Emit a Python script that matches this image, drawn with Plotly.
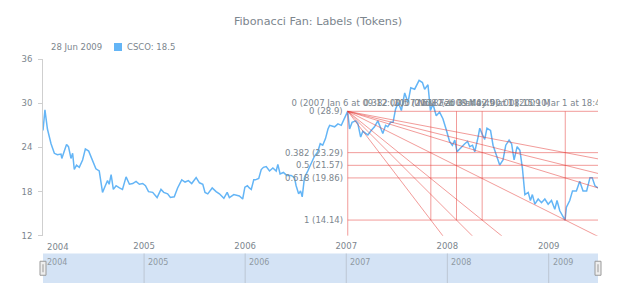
import pandas as pd
import plotly.graph_objects as go

# ---------------- data ----------------
title_text = "Fibonacci Fan: Labels (Tokens)"
series_name = "CSCO"

dates = [
    # 2004
    "2004-01-02", "2004-01-09", "2004-01-18", "2004-01-31", "2004-02-12", "2004-02-23", "2004-03-07", "2004-03-10",
    "2004-03-19", "2004-03-27", "2004-04-03", "2004-04-12", "2004-04-18", "2004-04-24", "2004-05-02", "2004-05-12",
    "2004-05-24", "2004-06-03", "2004-06-15", "2004-06-27", "2004-07-11", "2004-07-23", "2004-08-04", "2004-08-14",
    "2004-08-22", "2004-08-28", "2004-09-04", "2004-09-12", "2004-09-22", "2004-10-04", "2004-10-15", "2004-10-28",
    "2004-11-09", "2004-11-21", "2004-12-03", "2004-12-15", "2004-12-27",
    # 2005
    "2005-01-06", "2005-01-17", "2005-02-01", "2005-02-17", "2005-03-03", "2005-03-13", "2005-03-27", "2005-04-06",
    "2005-04-20", "2005-05-02", "2005-05-17", "2005-05-29", "2005-06-10", "2005-06-22", "2005-07-08", "2005-07-20",
    "2005-08-01", "2005-08-09", "2005-08-19", "2005-09-04", "2005-09-18", "2005-09-30", "2005-10-16", "2005-10-28",
    "2005-11-05", "2005-11-21", "2005-12-11", "2005-12-23", "2005-12-31",
    # 2006
    "2006-01-09", "2006-01-16", "2006-01-23", "2006-02-01", "2006-02-07", "2006-02-19", "2006-02-28", "2006-03-08",
    "2006-03-18", "2006-03-30", "2006-04-11", "2006-04-23", "2006-04-29", "2006-05-07", "2006-05-19", "2006-05-31",
    "2006-06-16", "2006-06-28", "2006-07-04", "2006-07-13", "2006-07-20", "2006-07-26", "2006-08-03", "2006-08-15",
    "2006-08-28", "2006-09-08", "2006-09-20", "2006-09-29", "2006-10-08", "2006-10-18", "2006-10-27", "2006-11-02",
    "2006-11-20", "2006-12-02", "2006-12-14", "2006-12-26",
    # 2007
    "2007-01-06", "2007-01-13", "2007-01-22", "2007-02-04", "2007-02-12", "2007-02-22", "2007-03-02", "2007-03-12",
    "2007-03-20", "2007-04-01", "2007-04-13", "2007-04-25", "2007-05-05", "2007-05-13", "2007-05-23", "2007-05-31",
    "2007-06-10", "2007-06-19", "2007-06-28", "2007-07-08", "2007-07-19", "2007-07-31", "2007-08-12", "2007-08-22",
    "2007-09-05", "2007-09-21", "2007-10-03", "2007-10-11", "2007-10-23", "2007-11-01", "2007-11-10", "2007-11-22",
    "2007-12-04", "2007-12-16", "2007-12-29",
    # 2008
    "2008-01-09", "2008-01-19", "2008-01-28", "2008-02-05", "2008-02-21", "2008-03-04", "2008-03-14", "2008-03-22",
    "2008-04-01", "2008-04-09", "2008-04-21", "2008-04-27", "2008-05-07", "2008-05-15", "2008-05-23", "2008-06-05",
    "2008-06-14", "2008-06-26", "2008-07-08", "2008-07-20", "2008-07-30", "2008-08-11", "2008-08-20", "2008-08-29",
    "2008-09-09", "2008-09-19", "2008-09-28", "2008-10-07", "2008-10-19", "2008-10-27", "2008-11-03", "2008-11-12",
    "2008-11-24", "2008-12-06", "2008-12-18", "2008-12-30",
    # 2009
    "2009-01-11", "2009-01-23", "2009-01-31", "2009-02-10", "2009-03-01", "2009-03-06", "2009-03-18", "2009-03-28",
    "2009-04-11", "2009-04-23", "2009-05-05", "2009-05-18", "2009-05-30", "2009-06-07", "2009-06-17", "2009-06-28",
]

close = [
    # 2004
    26.3, 29.1, 26.5, 24.5, 23.2, 23.0, 23.1, 22.5, 23.5, 24.4, 24.1, 22.5, 23.2, 21.0, 21.6, 21.3,
    22.3, 23.8, 23.5, 22.5, 21.1, 20.8, 17.9, 18.8, 19.5, 19.0, 20.3, 18.3, 18.8, 18.5, 18.3, 20.0,
    19.0, 19.1, 19.4, 19.0, 19.1,
    # 2005
    18.8, 18.0, 17.9, 17.2, 18.3, 17.9, 17.7, 17.2, 17.3, 18.5, 19.6, 19.3, 19.5, 19.1, 19.9, 19.2,
    19.0, 17.9, 17.7, 18.5, 18.0, 17.7, 17.1, 17.9, 17.2, 17.6, 17.4, 17.0, 18.6,
    # 2006
    18.8, 18.5, 18.3, 19.6, 19.6, 19.8, 21.0, 21.3, 21.4, 20.8, 21.2, 20.8, 21.7, 20.4, 20.6, 20.2,
    20.2, 19.9, 18.8, 17.7, 18.1, 17.3, 19.9, 20.8, 21.9, 22.8, 23.4, 24.5, 24.3, 25.2, 26.5, 27.0,
    26.8, 27.2, 27.0, 28.1,
    # 2007
    28.9, 26.5, 27.4, 27.6, 27.2, 25.4, 26.2, 25.9, 25.7, 26.3, 26.8, 27.6, 26.5, 25.9, 27.0, 26.8,
    27.4, 27.4, 29.2, 30.1, 29.0, 31.4, 30.1, 32.1, 31.9, 33.1, 32.8, 31.9, 32.5, 29.0, 29.9, 28.3,
    28.8, 27.9, 26.3,
    # 2008
    24.8, 24.3, 25.0, 23.4, 24.1, 24.5, 24.8, 24.1, 24.3, 23.4, 25.4, 26.6, 25.7, 25.1, 26.6, 26.3,
    24.3, 22.8, 21.6, 22.3, 24.3, 25.0, 24.5, 22.3, 24.1, 23.6, 21.2, 17.6, 17.9, 16.8, 17.6, 16.3,
    17.0, 16.5, 17.0, 16.3,
    # 2009
    16.8, 15.6, 16.8, 15.4, 14.14, 15.9, 16.8, 18.1, 18.1, 19.4, 18.1, 18.1, 19.9, 19.9, 18.8, 18.5,
]

year_labels = ["2004", "2005", "2006", "2007", "2008", "2009"]
y_ticks = [12, 18, 24, 30, 36]

fan_start_time = "2007-01-06 09:12:00"
fan_end_time = "2009-03-01 18:48:00"
fan_levels = [0, 0.382, 0.5, 0.618, 1]
fan_level_prices = [28.9, 23.29, 21.57, 19.86, 14.14]

# ---------------- styles ----------------
GRAY = "#7c868e"
LINE_BLUE = "#64b5f6"
FAN_RED = "rgba(229,57,53,0.5)"
AXIS_GRAY = "#cfcfcf"
FONT = "DejaVu Sans"
SMALL = 8.5

# ---------------- derived geometry ----------------
t0 = pd.Timestamp(fan_start_time)
t1 = pd.Timestamp(fan_end_time)
t_first = pd.Timestamp(dates[0])
t_last = pd.Timestamp(dates[-1])
p0 = fan_level_prices[0]
p1 = fan_level_prices[-1]
span = t1 - t0
y_min, y_max = y_ticks[0], y_ticks[-1]


def fmt(t):
    return t.strftime("%Y-%m-%d %H:%M:%S")


fan_x, fan_y = [], []


def seg(xa, ya, xb, yb):
    fan_x.extend([fmt(xa), fmt(xb), None])
    fan_y.extend([ya, yb, None])


time_levels = [t0 + span * f for f in fan_levels]

# horizontal price levels
for p in fan_level_prices:
    seg(t0, p, t_last, p)
# vertical time levels
for f, tf in zip(fan_levels, time_levels):
    if f == 0:
        seg(tf, p0, tf, y_min)
    else:
        seg(tf, p0, tf, p1)
# rays through price levels at the end time
ratio_end = (t_last - t0) / span
for f, p in zip(fan_levels, fan_level_prices):
    if f == 0:
        continue
    seg(t0, p0, t_last, p0 + (p - p0) * ratio_end)
# rays through time levels at the end price
for f, tf in zip(fan_levels, time_levels):
    if f == 0 or f == 1:
        continue
    r = (t_last - t0) / (tf - t0)
    seg(t0, p0, t_last, p0 + (p1 - p0) * r)

price_labels = [f"{lv} ({p})" for lv, p in zip(fan_levels, fan_level_prices)]
time_labels = [f"{lv} ({t.year} {t.strftime('%b')} {t.day} at {t.strftime('%H:%M:%S')})"
               for lv, t in zip(fan_levels, time_levels)]

fig = go.Figure()

fig.add_trace(go.Scatter(x=dates, y=close, mode="lines", name=series_name,
                         line=dict(color=LINE_BLUE, width=1.5), xaxis="x", yaxis="y"))
fig.add_trace(go.Scatter(x=fan_x, y=fan_y, mode="lines", connectgaps=False,
                         line=dict(color=FAN_RED, width=1), xaxis="x", yaxis="y"))
fig.add_trace(go.Scatter(x=[fmt(t) for t in time_levels], y=[p0] * len(time_levels), mode="markers+text",
                         marker=dict(size=4, color="rgba(0,0,0,0)"),
                         text=time_labels, textposition="top center", cliponaxis=True,
                         textfont=dict(family=FONT, size=SMALL, color=GRAY), xaxis="x", yaxis="y"))
# scroller placeholder trace
fig.add_trace(go.Scatter(x=[dates[0], dates[-1]], y=[0.5, 0.5], mode="lines", opacity=0,
                         line=dict(width=0), xaxis="x2", yaxis="y2", hoverinfo="skip"))

annotations = []
for lab, p in zip(price_labels, fan_level_prices):
    annotations.append(dict(x=fmt(t0), y=p, xref="x", yref="y", text=lab, showarrow=False,
                            xanchor="right", yanchor="middle", xshift=-3,
                            font=dict(family=FONT, size=SMALL, color=GRAY)))
# first year label (kept inside the plot like the original)
annotations.append(dict(x=dates[0], y=0, xref="x", yref="y domain", text=year_labels[0],
                        showarrow=False, xanchor="left", yanchor="top", xshift=2, yshift=-4,
                        font=dict(family=FONT, size=SMALL, color=GRAY)))
# scroller labels
for yl in year_labels:
    xpos = max(pd.Timestamp(f"{yl}-01-01"), t_first)
    annotations.append(dict(x=fmt(xpos), y=1, xref="x2", yref="y2 domain", text=yl, showarrow=False,
                            xanchor="left", yanchor="top", xshift=2, yshift=-2,
                            font=dict(family=FONT, size=8, color="#8f9aa3")))
# legend line
last_dt = pd.Timestamp(dates[-1])
annotations.append(dict(x=0, y=1, xref="paper", yref="paper", text=last_dt.strftime("%d %b %Y"),
                        showarrow=False, xanchor="left", yanchor="middle", xshift=6, yshift=12,
                        font=dict(family=FONT, size=SMALL, color=GRAY)))
annotations.append(dict(x=0, y=1, xref="paper", yref="paper", text=f"{series_name}: {close[-1]}",
                        showarrow=False, xanchor="left", yanchor="middle", xshift=82, yshift=12,
                        font=dict(family=FONT, size=SMALL, color=GRAY)))

shapes = []
# scroller band
shapes.append(dict(type="rect", xref="paper", yref="y2 domain", x0=0, x1=1, y0=0, y1=1,
                   fillcolor="#d4e3f5", line=dict(width=0), layer="below"))
for yl in year_labels[1:]:
    shapes.append(dict(type="line", xref="x2", yref="y2 domain", x0=f"{yl}-01-01", x1=f"{yl}-01-01",
                       y0=0, y1=1, line=dict(color="#bcc6d3", width=1)))
# scroller handles
for xa in (0, 1):
    shapes.append(dict(type="rect", xref="paper", yref="y2 domain", xsizemode="pixel", ysizemode="pixel",
                       xanchor=xa, yanchor=0.5, x0=-3, x1=3, y0=-7, y1=7,
                       fillcolor="#eeeeee", line=dict(color="#9a9a9a", width=1)))
    shapes.append(dict(type="line", xref="paper", yref="y2 domain", xsizemode="pixel", ysizemode="pixel",
                       xanchor=xa, yanchor=0.5, x0=0, x1=0, y0=-4, y1=4,
                       line=dict(color="#9a9a9a", width=1)))
# legend marker
shapes.append(dict(type="rect", xref="paper", yref="paper", xsizemode="pixel", ysizemode="pixel",
                   xanchor=0, yanchor=1, x0=71, x1=79, y0=8, y1=16,
                   fillcolor=LINE_BLUE, line=dict(width=0)))

fig.update_layout(
    width=620, height=300,
    margin=dict(l=43, r=22, t=59, b=13),
    paper_bgcolor="white", plot_bgcolor="white",
    showlegend=False, hovermode=False,
    font=dict(family=FONT, size=SMALL, color=GRAY),
    title=dict(text=title_text, x=318 / 620, xref="container", xanchor="center",
               y=1 - 21 / 300, yref="container", yanchor="middle",
               font=dict(family=FONT, size=11.2, color=GRAY)),
    xaxis=dict(type="date", range=[dates[0], dates[-1]], domain=[0, 1], anchor="y",
               tickvals=[f"{yl}-01-01" for yl in year_labels[1:]], ticktext=year_labels[1:],
               ticks="", showgrid=False, zeroline=False, showline=False, ticklabelstandoff=4,
               tickfont=dict(family=FONT, size=SMALL, color=GRAY)),
    yaxis=dict(domain=[48 / 228, 1], range=[y_min, y_max], tickvals=y_ticks, anchor="x",
               ticks="outside", ticklen=4, tickcolor=AXIS_GRAY, showline=True, linecolor=AXIS_GRAY,
               linewidth=1, showgrid=False, zeroline=False, ticklabelstandoff=4,
               tickfont=dict(family=FONT, size=SMALL, color=GRAY)),
    xaxis2=dict(type="date", range=[dates[0], dates[-1]], domain=[0, 1], anchor="y2", visible=False),
    yaxis2=dict(domain=[0, 30 / 228], range=[0, 1], anchor="x2", visible=False),
    annotations=annotations,
    shapes=shapes,
)

fig.write_html("out.html")
